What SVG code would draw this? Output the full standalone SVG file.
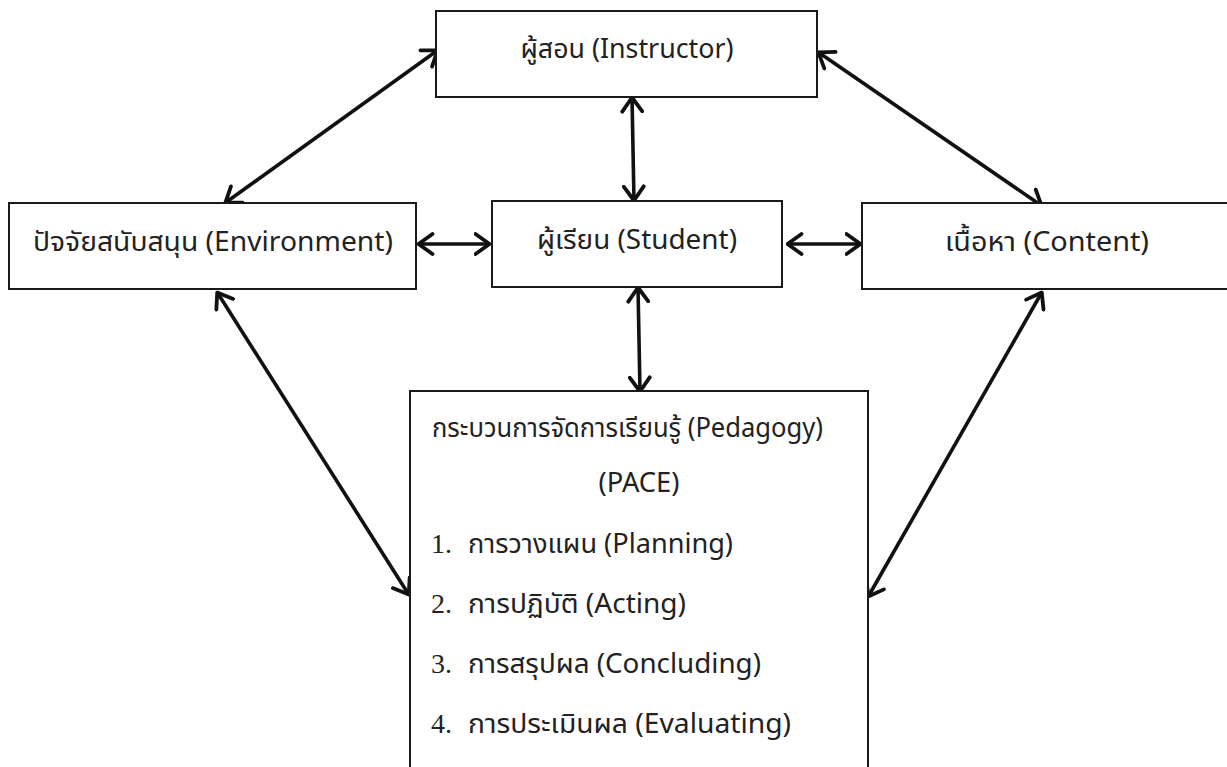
<svg xmlns="http://www.w3.org/2000/svg" width="1227" height="767" viewBox="0 0 1227 767">
<style>
.box{fill:#fff;stroke:#1a1a1a;stroke-width:2}
.t{font-family:"Noto Sans","Noto Sans Thai","Liberation Sans",sans-serif;font-size:27px;fill:#222}
.n{font-family:"Liberation Serif",serif;font-size:28px;fill:#222}
.c{stroke:#111;stroke-width:3.6;fill:none;marker-start:url(#ah);marker-end:url(#ah)}
</style>
<defs>
<marker id="ah" viewBox="0 0 18 24" refX="16.5" refY="12" markerWidth="18" markerHeight="24" markerUnits="userSpaceOnUse" orient="auto-start-reverse">
<path d="M2,2 L16,12 L2,22" fill="none" stroke="#111" stroke-width="3.8" stroke-linecap="round" stroke-linejoin="round"/>
</marker>
</defs>
<rect width="1227" height="767" fill="#fff"/>
<g id="connectors">
<line class="c" x1="438" y1="50" x2="225" y2="203"/>
<line class="c" x1="632" y1="97" x2="634" y2="201"/>
<line class="c" x1="818" y1="52" x2="1042" y2="206"/>
<line class="c" x1="418" y1="244" x2="490" y2="244"/>
<line class="c" x1="787" y1="244" x2="861" y2="244"/>
<line class="c" x1="638" y1="287" x2="640" y2="392"/>
<line class="c" x1="217" y1="292" x2="409" y2="595"/>
<line class="c" x1="1042" y1="292" x2="868" y2="597"/>
</g>
<g id="instructor">
<rect class="box" x="436" y="11" width="381" height="86"/>
<text class="t" x="627" y="58" text-anchor="middle" textLength="213" lengthAdjust="spacingAndGlyphs">ผู้สอน (Instructor)</text>
</g>
<g id="environment">
<rect class="box" x="9" y="203" width="407" height="86"/>
<text class="t" x="213" y="251" text-anchor="middle" textLength="360" lengthAdjust="spacingAndGlyphs">ปัจจัยสนับสนุน (Environment)</text>
</g>
<g id="student">
<rect class="box" x="492" y="201" width="290" height="86"/>
<text class="t" x="637" y="249" text-anchor="middle" textLength="200" lengthAdjust="spacingAndGlyphs">ผู้เรียน (Student)</text>
</g>
<g id="content">
<rect class="box" x="862" y="203" width="380" height="86"/>
<text class="t" x="1047" y="251" text-anchor="middle" textLength="204" lengthAdjust="spacingAndGlyphs">เนื้อหา (Content)</text>
</g>
<g id="pedagogy">
<rect class="box" x="410" y="391" width="458" height="400"/>
<text class="t" x="432" y="437" textLength="391" lengthAdjust="spacingAndGlyphs">กระบวนการจัดการเรียนรู้ (Pedagogy)</text>
<text class="t" x="639" y="492" text-anchor="middle" textLength="81" lengthAdjust="spacingAndGlyphs">(PACE)</text>
<text class="n" x="431" y="553">1.</text>
<text class="t" x="468" y="553" textLength="265" lengthAdjust="spacingAndGlyphs">การวางแผน (Planning)</text>
<text class="n" x="431" y="613">2.</text>
<text class="t" x="468" y="613" textLength="218" lengthAdjust="spacingAndGlyphs">การปฏิบัติ (Acting)</text>
<text class="n" x="431" y="673">3.</text>
<text class="t" x="468" y="673" textLength="293" lengthAdjust="spacingAndGlyphs">การสรุปผล (Concluding)</text>
<text class="n" x="431" y="733">4.</text>
<text class="t" x="468" y="733" textLength="323" lengthAdjust="spacingAndGlyphs">การประเมินผล (Evaluating)</text>
</g>
</svg>
